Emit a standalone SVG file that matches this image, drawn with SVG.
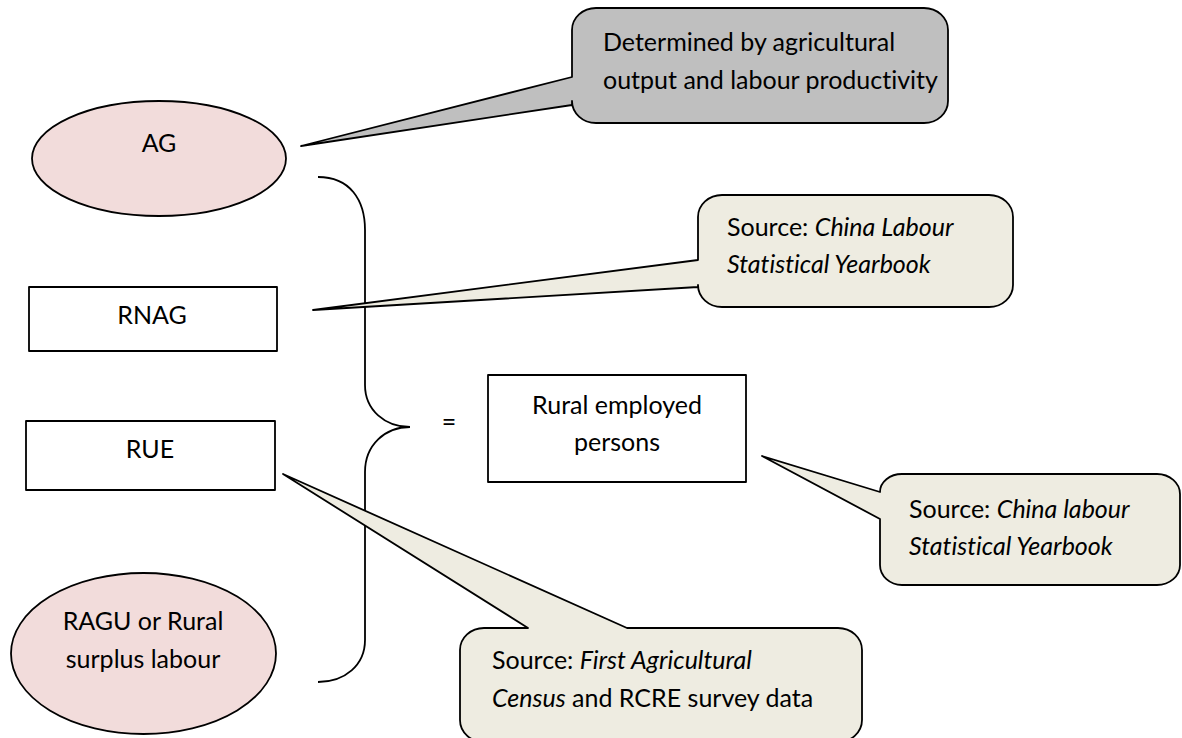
<svg xmlns="http://www.w3.org/2000/svg" width="1182" height="738" viewBox="0 0 1182 738">
<style>
.shape{stroke:#000;stroke-width:1.8;stroke-linejoin:round}
.ell{fill:#f2dcdb}
.box{fill:#fff}
.gray{fill:#bfbfbf}
.beige{fill:#eeece1}
text{font-family:Lato,"Open Sans","Liberation Sans",sans-serif;font-size:25px;fill:#000;font-variant-ligatures:none}
.c{text-anchor:middle}
.i{font-style:italic}
.brace{fill:none;stroke:#000;stroke-width:1.8}
</style>
<rect width="1182" height="738" fill="#fff"/>
<g id="connectors">
<path class="brace" d="M318,177 C350,177 365,200 365,230 L365,385 C365,410 385,427 410,427 C385,427 365,445 365,472 L365,640 C365,665 345,682 318,682"/>
</g>
<g id="equals"><text class="c" x="449" y="431">=</text></g>
<g id="ag">
<ellipse class="shape ell" cx="159" cy="158.5" rx="127" ry="57.5"/>
<text class="c" x="159" y="152">AG</text>
</g>
<g id="rnag">
<rect class="shape box" x="29" y="287" width="248" height="64"/>
<text class="c" x="152" y="324">RNAG</text>
</g>
<g id="rue">
<rect class="shape box" x="26" y="421" width="249" height="69"/>
<text class="c" x="150" y="458">RUE</text>
</g>
<g id="ragu">
<ellipse class="shape ell" cx="143.5" cy="653.5" rx="132.5" ry="80.5"/>
<text class="c" x="143" y="630">RAGU or Rural</text>
<text class="c" x="143" y="668">surplus labour</text>
</g>
<g id="rural">
<rect class="shape box" x="488" y="375" width="258" height="107"/>
<text class="c" x="617" y="414">Rural employed</text>
<text class="c" x="617" y="451">persons</text>
</g>
<g id="callout-ag">
<path class="shape gray" d="M596,8 H924 A24 22 0 0 1 948,30 V101 A24 22 0 0 1 924,123 H596 A24 22 0 0 1 572,101 V105 L301,146 L572,77 V30 A24 22 0 0 1 596,8 Z"/>
<text x="603" y="51">Determined by agricultural</text>
<text x="603" y="89">output and labour productivity</text>
</g>
<g id="callout-rnag">
<path class="shape beige" d="M722,195 H989 A24 22 0 0 1 1013,217 V285 A24 22 0 0 1 989,307 H722 A24 22 0 0 1 698,285 V287 L313,310 L698,260 V217 A24 22 0 0 1 722,195 Z"/>
<text x="727" y="236">Source: <tspan class="i">China Labour</tspan></text>
<text x="727" y="273" class="i">Statistical Yearbook</text>
</g>
<g id="callout-rural">
<path class="shape beige" d="M902,474 H1157 A23 20 0 0 1 1180,494 V565 A23 20 0 0 1 1157,585 H902 A22 20 0 0 1 880,565 V519 L762,456 L880,492 A22 18 0 0 1 902,474 Z"/>
<text x="909" y="518">Source: <tspan class="i">China labour</tspan></text>
<text x="909" y="555" class="i">Statistical Yearbook</text>
</g>
<g id="callout-rue">
<path class="shape beige" d="M484,628 H528 L283,474 L627,628 H838 A24 22 0 0 1 862,650 V720 A24 22 0 0 1 838,742 H484 A24 22 0 0 1 460,720 V650 A24 22 0 0 1 484,628 Z"/>
<text x="492" y="669">Source: <tspan class="i">First Agricultural</tspan></text>
<text x="492" y="707"><tspan class="i">Census</tspan> and RCRE survey data</text>
</g>
</svg>
